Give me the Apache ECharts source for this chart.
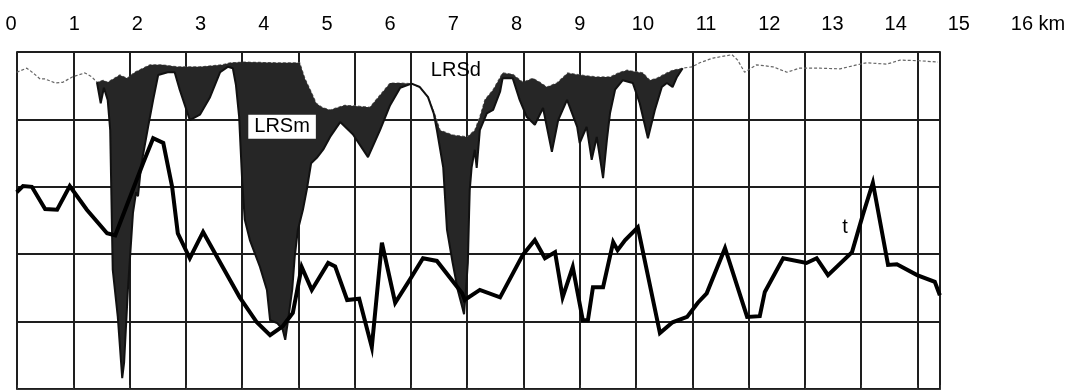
<!DOCTYPE html>
<html lang="en">
<head>
  <meta charset="UTF-8">
  <title>LRS profile</title>
  <style>
    body { margin: 0; background: #fff; }
    #main { width: 1081px; height: 391px; }
  </style>
</head>
<body>
  <div id="main"></div>
  <script src="https://cdn.jsdelivr.net/npm/echarts@6/dist/echarts.min.js"></script>
  <script>
    // distance along the profile (km) and values in grid divisions
    var lrsdKm = [0.09, 0.25, 0.35, 0.46, 0.54, 0.70, 0.82, 0.97, 1.17, 1.28, 1.36, 1.46, 1.53, 1.72, 1.84, 1.96, 2.20, 2.39, 2.63, 2.99,
      3.35, 3.47, 3.70, 4.21, 4.57, 4.65, 4.75, 4.83, 4.92, 5.05, 5.28, 5.44, 5.68, 6.00, 6.16, 6.34, 6.47, 6.60, 6.71, 6.79,
      6.99, 7.22, 7.34, 7.42, 7.50, 7.63, 7.78, 7.94, 8.10, 8.26, 8.37, 8.48, 8.64, 8.81, 9.00, 9.27, 9.48, 9.64, 9.75, 10.00,
      10.11, 10.22, 10.38, 10.47, 10.63, 10.78, 10.90, 11.11, 11.41, 11.50, 11.61, 11.80, 12.06, 12.28, 12.48, 12.80, 13.12, 13.39, 13.54, 13.86,
      14.07, 14.38, 14.67]
    var lrsdVal = [4.70, 4.76, 4.69, 4.60, 4.60, 4.54, 4.55, 4.63, 4.69, 4.63, 4.55, 4.58, 4.55, 4.66, 4.61, 4.70, 4.81, 4.81, 4.78, 4.78,
      4.81, 4.84, 4.85, 4.84, 4.84, 4.61, 4.41, 4.24, 4.18, 4.14, 4.21, 4.20, 4.18, 4.54, 4.54, 4.53, 4.48, 4.33, 4.07, 3.84,
      3.77, 3.74, 3.84, 4.04, 4.29, 4.44, 4.69, 4.67, 4.55, 4.61, 4.55, 4.48, 4.54, 4.69, 4.66, 4.63, 4.63, 4.70, 4.73, 4.69,
      4.58, 4.61, 4.69, 4.73, 4.76, 4.78, 4.84, 4.91, 4.96, 4.88, 4.70, 4.81, 4.78, 4.70, 4.76, 4.76, 4.75, 4.81, 4.84, 4.82,
      4.88, 4.87, 4.85]

    var lrsmKm = [1.36, 1.42, 1.47, 1.53, 1.57, 1.61, 1.69, 1.76, 1.79, 1.85, 1.93, 1.98, 2.01, 2.06, 2.17, 2.25, 2.33, 2.48, 2.59, 2.67,
      2.83, 2.99, 3.15, 3.31, 3.43, 3.51, 3.56, 3.61, 3.66, 3.70, 3.78, 3.94, 4.05, 4.10, 4.21, 4.30, 4.34, 4.38, 4.45, 4.49,
      4.54, 4.62, 4.68, 4.75, 4.84, 4.94, 5.05, 5.21, 5.41, 5.65, 5.84, 6.00, 6.16, 6.34, 6.47, 6.60, 6.69, 6.74, 6.84, 6.90,
      6.99, 7.07, 7.14, 7.17, 7.20, 7.23, 7.25, 7.26, 7.29, 7.34, 7.37, 7.42, 7.53, 7.63, 7.74, 7.78, 7.94, 8.05, 8.16, 8.29,
      8.42, 8.56, 8.66, 8.80, 8.96, 9.00, 9.11, 9.19, 9.27, 9.37, 9.43, 9.48, 9.56, 9.68, 9.84, 9.95, 10.08, 10.19, 10.30, 10.38,
      10.47, 10.54, 10.63]
    var lrsmVal = [4.55, 4.24, 4.47, 4.29, 3.84, 1.77, 1.07, 0.16, 0.39, 1.47, 2.61, 2.92, 2.86, 3.32, 3.89, 4.29, 4.66, 4.70, 4.70, 4.44,
      3.99, 4.07, 4.33, 4.70, 4.78, 4.76, 4.51, 4.04, 3.06, 2.51, 2.21, 1.81, 1.47, 1.02, 0.98, 0.88, 0.73, 0.99, 1.47, 1.96,
      2.36, 2.66, 2.95, 3.35, 3.43, 3.55, 3.74, 3.96, 3.78, 3.44, 3.84, 4.21, 4.47, 4.53, 4.48, 4.33, 4.09, 3.84, 3.29, 2.36,
      1.87, 1.47, 1.22, 1.11, 1.47, 1.87, 2.61, 2.95, 3.29, 3.55, 3.28, 3.84, 4.09, 4.14, 4.41, 4.61, 4.61, 4.29, 4.04, 3.92,
      4.17, 3.52, 3.99, 4.29, 3.89, 3.65, 3.89, 3.40, 3.74, 3.13, 3.69, 4.09, 4.44, 4.58, 4.54, 4.24, 3.72, 4.14, 4.48, 4.54,
      4.48, 4.63, 4.76]

    var tKm = [0.09, 0.19, 0.33, 0.54, 0.73, 0.93, 1.20, 1.52, 1.65, 2.09, 2.25, 2.41, 2.55, 2.64, 2.83, 3.04, 3.35, 3.62, 3.89, 4.10,
      4.30, 4.46, 4.60, 4.76, 5.02, 5.13, 5.32, 5.51, 5.71, 5.87, 6.08, 6.31, 6.52, 6.74, 7.14, 7.18, 7.42, 7.74, 8.10, 8.29,
      8.45, 8.61, 8.73, 8.89, 9.05, 9.13, 9.21, 9.37, 9.53, 9.60, 9.72, 9.92, 10.27, 10.47, 10.70, 10.87, 11.01, 11.30, 11.65, 11.85,
      11.93, 12.22, 12.59, 12.75, 12.93, 13.31, 13.48, 13.64, 13.88, 14.02, 14.34, 14.62, 14.70]
    var tVal = [2.92, 3.01, 3.00, 2.67, 2.66, 3.01, 2.66, 2.31, 2.28, 3.35, 3.72, 3.65, 3.00, 2.31, 1.94, 2.33, 1.81, 1.36, 0.99, 0.80,
      0.93, 1.13, 1.81, 1.47, 1.87, 1.82, 1.32, 1.34, 0.62, 2.17, 1.28, 1.62, 1.94, 1.90, 1.42, 1.32, 1.47, 1.36, 1.99, 2.21,
      1.94, 2.03, 1.36, 1.81, 1.02, 1.02, 1.51, 1.51, 2.18, 2.06, 2.21, 2.40, 0.83, 0.99, 1.07, 1.28, 1.42, 2.09, 1.07, 1.08,
      1.44, 1.94, 1.87, 1.94, 1.69, 2.03, 2.58, 3.06, 1.84, 1.85, 1.69, 1.59, 1.39]

    var kmMax = 16
    var font = '"Liberation Sans", Arial, sans-serif'

    function pairs(xs, ys) {
      return xs.map(function (x, i) { return [x, ys[i]] })
    }

    var myChart = echarts.init(document.getElementById('main'))

    var gridLine = { color: '#1e1e1e', width: 2 }

    var option = {
      animation: false,
      backgroundColor: '#fff',
      grid: [
        { left: 17, right: 141, top: 52, bottom: 2, outerBoundsMode: 'none' },
        { left: 11, right: 59, top: 52, bottom: 2, outerBoundsMode: 'none' }
      ],
      xAxis: [
        {
          gridIndex: 0, type: 'value', position: 'top',
          min: 0, max: 16.4, interval: 1,
          axisLine: { show: true, lineStyle: { color: '#333', width: 1 } },
          axisTick: { show: true, length: 4, lineStyle: { color: '#333' } },
          axisLabel: { show: false },
          splitLine: { show: true, lineStyle: gridLine }
        },
        {
          gridIndex: 1, type: 'value', position: 'top',
          min: 0, max: kmMax, interval: 1,
          axisLine: { show: false },
          axisTick: { show: false },
          splitLine: { show: false },
          axisLabel: {
            margin: 18, fontSize: 20, color: '#000', fontFamily: font,
            showMinLabel: true, showMaxLabel: true,
            formatter: function (v) {
              return v === kmMax ? '{u|' + v + ' km}' : String(v)
            },
            rich: { u: { fontSize: 20, color: '#000', fontFamily: font, padding: [0, 0, 0, 32] } }
          }
        }
      ],
      yAxis: [
        {
          gridIndex: 0, type: 'value', min: 0, max: 5, interval: 1,
          axisLine: { show: true, lineStyle: gridLine },
          axisTick: { show: false },
          axisLabel: { show: false },
          splitLine: { show: true, lineStyle: gridLine }
        },
        {
          gridIndex: 0, type: 'value', position: 'right', min: 0, max: 5, interval: 1,
          axisLine: { show: true, lineStyle: gridLine },
          axisTick: { show: false },
          axisLabel: { show: false },
          splitLine: { show: false }
        },
        { gridIndex: 1, type: 'value', min: 0, max: 5, show: false }
      ],
      series: [
        {
          name: 'LRSd',
          type: 'line',
          xAxisIndex: 1, yAxisIndex: 2,
          data: pairs(lrsdKm, lrsdVal),
          symbol: 'none',
          z: 1,
          lineStyle: { color: '#666', width: 1.2, type: [3, 2] },
          markPoint: {
            symbol: 'rect', symbolSize: 1,
            itemStyle: { color: 'rgba(0,0,0,0)' },
            label: { show: true, position: 'inside', formatter: 'LRSd', fontSize: 20, color: '#000', fontFamily: font },
            data: [{ coord: [7.04, 4.73] }]
          }
        },
        {
          // shaded band between LRSd and LRSm
          name: 'band',
          type: 'custom',
          xAxisIndex: 1, yAxisIndex: 2,
          data: [[lrsmKm[0], lrsmVal[0]]],
          z: 2,
          silent: true,
          renderItem: function (params, api) {
            var pts = []
            for (var i = 0; i < lrsmKm.length; i++) {
              pts.push(api.coord([lrsmKm[i], lrsmVal[i]]))
            }
            var a = lrsmKm[0]
            var b = lrsmKm[lrsmKm.length - 1]
            for (var j = lrsdKm.length - 1; j >= 0; j--) {
              if (lrsdKm[j] >= a && lrsdKm[j] <= b) pts.push(api.coord([lrsdKm[j], lrsdVal[j]]))
            }
            return { type: 'polygon', shape: { points: pts }, style: { fill: '#262626' } }
          }
        },
        {
          name: 'LRSm',
          type: 'line',
          xAxisIndex: 1, yAxisIndex: 2,
          data: pairs(lrsmKm, lrsmVal),
          symbol: 'none',
          z: 3,
          lineStyle: { color: '#111', width: 2 },
          markPoint: {
            symbol: 'rect', symbolSize: 1,
            itemStyle: { color: 'rgba(0,0,0,0)' },
            label: {
              show: true, position: 'inside', formatter: 'LRSm', fontSize: 20, color: '#000', fontFamily: font,
              backgroundColor: '#fff', padding: [2, 6]
            },
            data: [{ coord: [4.29, 3.89] }]
          }
        },
        {
          name: 't',
          type: 'line',
          xAxisIndex: 1, yAxisIndex: 2,
          data: pairs(tKm, tVal),
          symbol: 'none',
          z: 4,
          lineStyle: { color: '#000', width: 4, join: 'miter', miterLimit: 6 },
          markPoint: {
            symbol: 'rect', symbolSize: 1,
            itemStyle: { color: 'rgba(0,0,0,0)' },
            label: { show: true, position: 'inside', formatter: 't', fontSize: 20, color: '#000', fontFamily: font },
            data: [{ coord: [13.2, 2.39] }]
          }
        }
      ]
    }

    myChart.setOption(option)

    window.onresize = function () {
      myChart.resize()
    }
  </script>
</body>
</html>
